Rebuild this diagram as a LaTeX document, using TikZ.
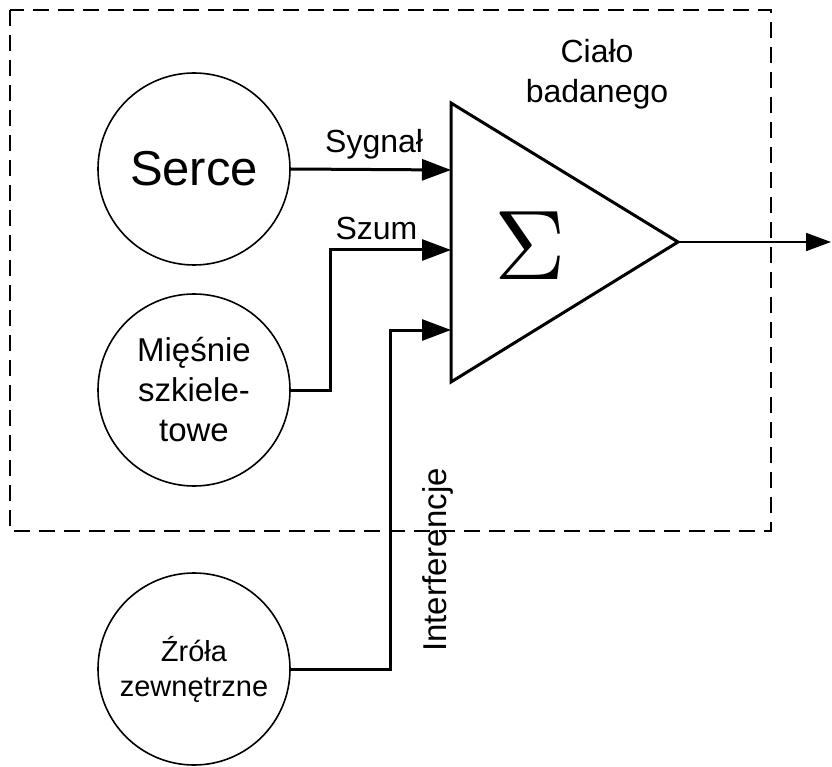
\documentclass[tikz,border=0pt]{standalone}
\usepackage{fontspec}
\usepackage{graphicx}
\setmainfont{Liberation Sans}
\usetikzlibrary{arrows.meta,positioning}

\begin{document}
\begin{tikzpicture}[
  x=1pt, y=-1pt,
  src/.style={draw, circle, line width=1.6pt, minimum size=192pt, inner sep=0pt, align=center},
  lbl/.style={font=\fontsize{32}{40}\selectfont, inner sep=0pt},
  arr/.style={-{Triangle[length=29pt, width=21pt]}, line width=3pt},
  frame/.style={draw, line width=1.8pt, dash pattern=on 16pt off 9pt}
]
\useasboundingbox (0,0) rectangle (832,767);
\draw[frame] (10,10) rectangle (771,531);
% summing block
\coordinate (sumtop) at (451,103);
\coordinate (sumbot) at (451,382);
\coordinate (sumout) at (678,242);
\draw[line width=3pt, line join=miter] (sumtop) -- (sumout) -- (sumbot) -- cycle;
\node[inner sep=0pt] (sigma) at (530,246) {\scalebox{9.9}{$\Sigma$}};
\coordinate (in1) at (451,170);
\coordinate (in2) at (451,250);
\coordinate (in3) at (451,330);
\coordinate (out) at (831,242);
% sources
\node[src, font=\fontsize{49}{49}\selectfont] (serce) at (194,169) {Serce};
\node[src, font=\fontsize{33}{40}\selectfont] (miesnie) at (194,390) {Mięśnie\\szkiele-\\towe};
\node[src, font=\fontsize{29}{35}\selectfont] (zrodla) at (194,669) {Źróła\\zewnętrzne};
\node[lbl, align=center] (cialo) at (597,74) {Ciało\\badanego};
\draw[arr] (serce.east) -- node[lbl, above=9pt, pos=0.52] (sygnal) {Sygnał} (in1);
\draw[arr] (miesnie.east) -- ++(40,0) |- node[lbl, above=9pt, pos=0.69] (szum) {Szum} (in2);
\draw[arr] (zrodla.east) -- ++(100,0) |- (in3);
\node[lbl, font=\fontsize{33}{40}\selectfont, rotate=90] (interf) at (438,560) {Interferencje};
\draw[-{Triangle[length=25pt, width=18pt]}, line width=1.8pt] (sumout) -- (out);
\end{tikzpicture}
\end{document}
